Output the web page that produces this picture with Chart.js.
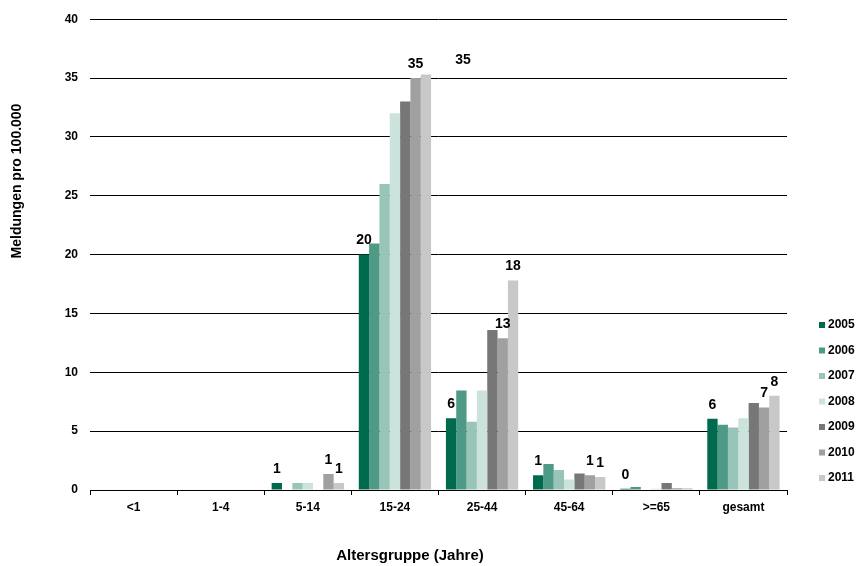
<!DOCTYPE html>
<html>
<head>
<meta charset="utf-8">
<script src="https://cdn.jsdelivr.net/npm/chart.js@4/dist/chart.umd.min.js"></script>
<style>
  html, body { margin: 0; padding: 0; background: #fff; }
  #wrap { width: 857px; height: 566px; }
</style>
</head>
<body>
<div id="wrap"><canvas id="myChart" width="857" height="566"></canvas></div>
<script>
// Altersgruppen und Meldungen pro 100.000 je Jahr
var categories = ['<1', '1-4', '5-14', '15-24', '25-44', '45-64', '>=65', 'gesamt'];
var years = ['2005', '2006', '2007', '2008', '2009', '2010', '2011'];

var y2005 = [0, 0, 0.6, 20.0, 6.1, 1.25, 0.1, 6.05];
var y2006 = [0, 0, 0, 20.95, 8.45, 2.2, 0.25, 5.55];
var y2007 = [0, 0, 0.6, 26.0, 5.8, 1.7, 0, 5.3];
var y2008 = [0, 0, 0.6, 32.0, 8.45, 0.9, 0.1, 6.1];
var y2009 = [0, 0, 0, 33.0, 13.6, 1.4, 0.6, 7.4];
var y2010 = [0, 0, 1.35, 35.0, 12.9, 1.25, 0.15, 7.0];
var y2011 = [0, 0, 0.6, 35.3, 17.8, 1.1, 0.15, 8.0];

// which categories carry a value label, per year
var lab2005 = [2, 3, 4, 5, 6, 7];
var lab2006 = [];
var lab2007 = [];
var lab2008 = [];
var lab2009 = [];
var lab2010 = [2, 3, 4, 5, 7];
var lab2011 = [2, 3, 4, 5, 7];

var yTicks = [0, 5, 10, 15, 20, 25, 30, 35, 40];

var colors = ['#006a4e', '#4f9a86', '#99c5b8', '#cce3dd', '#777777', '#a0a0a0', '#c8c8c9'];
var series = [y2005, y2006, y2007, y2008, y2009, y2010, y2011];
var labelled = [lab2005, lab2006, lab2007, lab2008, lab2009, lab2010, lab2011];

var FONT = 'Arial, "Liberation Sans", sans-serif';

// value labels above the bars
var barLabels = {
    id: 'barLabels',
    afterDatasetsDraw: function(chart, args, opts){
        var ctx = chart.ctx;
        ctx.save();
        ctx.font = 'bold 14px ' + FONT;
        ctx.fillStyle = '#000';
        ctx.textAlign = 'center';
        ctx.textBaseline = 'bottom';
        chart.data.datasets.forEach(function(ds, di){
            var meta = chart.getDatasetMeta(di);
            labelled[di].forEach(function(i){
                var bar = meta.data[i];
                var dx = (opts.shift[di + ':' + i] || 0);
                ctx.fillText(String(Math.round(ds.data[i])), bar.x + dx, bar.y - 7);
            });
        });
        ctx.restore();
    }
};

// axis titles and the legend on the right
var extras = {
    id: 'extras',
    afterDraw: function(chart){
        var ctx = chart.ctx;
        var area = chart.chartArea;
        ctx.save();
        ctx.fillStyle = '#000';
        ctx.textAlign = 'center';
        ctx.textBaseline = 'middle';
        ctx.font = 'bold 15px ' + FONT;
        ctx.fillText('Altersgruppe (Jahre)', 410, 556);

        ctx.font = 'bold 14px ' + FONT;
        ctx.save();
        ctx.translate(17, 181);
        ctx.rotate(-Math.PI / 2);
        ctx.fillText('Meldungen pro 100.000', 0, 0);
        ctx.restore();

        ctx.font = 'bold 12px ' + FONT;
        ctx.textAlign = 'left';
        chart.data.datasets.forEach(function(ds, i){
            var y = 325 + i * 25.5;
            var x = area.right + 32;
            ctx.fillStyle = ds.backgroundColor;
            ctx.fillRect(x, y - 3, 6, 6);
            ctx.fillStyle = '#000';
            ctx.fillText(ds.label, x + 9, y);
        });
        ctx.restore();
    }
};

var datasets = years.map(function(yr, i){
    return {
        label: yr,
        data: series[i],
        backgroundColor: colors[i],
        borderWidth: 0,
        categoryPercentage: 0.83,
        barPercentage: 1.0
    };
});

var ctx = document.getElementById('myChart');

// eslint-disable-next-line no-unused-vars
var myChart = new Chart(ctx, {
    type: 'bar',
    data: { labels: categories, datasets: datasets },
    plugins: [barLabels, extras],
    options: {
        responsive: false,
        animation: false,
        layout: { padding: { left: 0, right: 70, top: 16, bottom: 0 } },
        plugins: {
            legend: { display: false },
            tooltip: { enabled: false },
            barLabels: { shift: { '6:3': 37 } }
        },
        scales: {
            x: {
                grid: {
                    offset: true,
                    drawOnChartArea: false,
                    drawTicks: true,
                    tickLength: 5,
                    color: '#000'
                },
                border: { color: '#000', width: 1 },
                ticks: {
                    color: '#000',
                    font: { family: FONT, size: 12, weight: 'bold' },
                    padding: 5,
                    maxRotation: 0,
                    autoSkip: false
                },
                afterFit: function(s){ s.height = 76; }
            },
            y: {
                min: 0,
                max: 40,
                afterBuildTicks: function(s){
                    s.ticks = yTicks.map(function(v){ return { value: v }; });
                },
                grid: { color: '#000', lineWidth: 1, drawTicks: false },
                border: { display: false },
                ticks: {
                    color: '#000',
                    font: { family: FONT, size: 12, weight: 'bold' },
                    padding: 12
                },
                afterFit: function(s){ s.width = 90; }
            }
        }
    }
});
</script>
</body>
</html>
